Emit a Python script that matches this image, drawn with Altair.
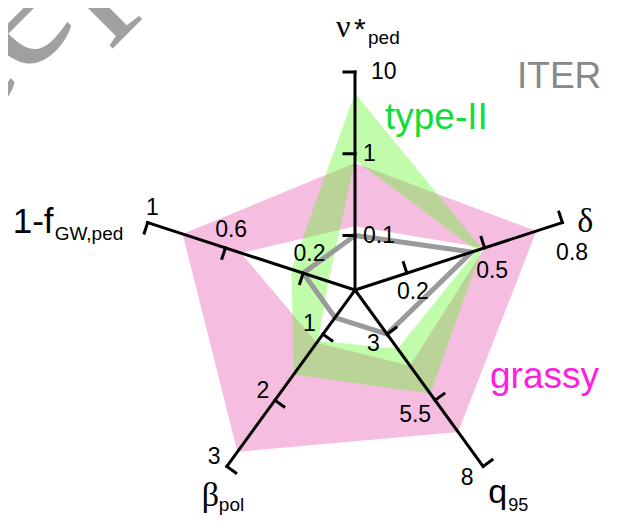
import math
import altair as alt
import pandas as pd

# ---------------- data ----------------
axis_keys = ["nu", "delta", "q95", "beta", "fgw"]
axis_angle = [90, 18, -54, -126, 162]  # degrees, counter-clockwise from +x
axis_ticks = [[0.1, 1, 10], [0.2, 0.5, 0.8], [3, 5.5, 8], [1, 2, 3], [0.2, 0.6, 1]]
axis_tick_text = [["0.1", "1", "10"], ["0.2", "0.5", "0.8"], ["3", "5.5", "8"],
                  ["1", "2", "3"], ["0.2", "0.6", "1"]]
axis_is_log = [True, False, False, False, False]

iter_values = [0.1, 0.45, 3.0, 0.75, 0.2]
grassy_low = [0.13, 0.50, 4.2, 1.13, 0.52]
grassy_high = [0.77, 0.70, 6.7, 2.78, 0.82]
type2_low = [0.84, 0.47, 3.55, 1.10, 0.07]
type2_high = [5.5, 0.49, 5.25, 1.61, 0.26]

# ---------------- layout ----------------
W, H = 604, 509
R_PX = 218.0            # axis length in pixels
CX, CY = 347.0, 282.0   # centre of the radar inside the plot area
X_DOM = [-CX / R_PX, (W - CX) / R_PX]
Y_DOM = [-(H - CY) / R_PX, CY / R_PX]
TICK_LEN = 11 / R_PX
LABEL_FS = 23
label_gap = [[8, 8, 16], [7, 12, 19], [7, 7, 10], [7, 5, 6], [8, 6, 6]]


def radius(k, v):
    t = axis_ticks[k]
    f = math.log10 if axis_is_log[k] else (lambda z: z)
    return 0.25 + 0.375 * (f(v) - f(t[0])) / (f(t[1]) - f(t[0]))


def point(k, v):
    r = radius(k, v)
    a = math.radians(axis_angle[k])
    return r * math.cos(a), r * math.sin(a)


def text_width(s, fs):
    return sum((0.278 if ch in ".,-" else 0.556) for ch in s) * fs


# bands (outer ring clockwise, inner ring counter-clockwise -> hole)
def ring(low, high, name):
    rows = []
    seq = [(high, k) for k in [0, 1, 2, 3, 4, 0]] + [(low, k) for k in [0, 4, 3, 2, 1, 0]]
    for i, (arr, k) in enumerate(seq):
        x, y = point(k, arr[k])
        rows.append(dict(band=name, i=i, x=x, y=y))
    return pd.DataFrame(rows)


grassy_df = ring(grassy_low, grassy_high, "grassy")
type2_df = ring(type2_low, type2_high, "type-II")

iter_rows = []
for k in range(5):
    x, y = point(k, iter_values[k])
    iter_rows.append(dict(i=k, x=x, y=y))
iter_df = pd.DataFrame(iter_rows)

# axis lines and ticks
seg_rows = []
lab_rows = []
for k in range(5):
    a = math.radians(axis_angle[k])
    ex, ey = point(k, axis_ticks[k][2])
    seg_rows.append(dict(x=0.0, y=0.0, x2=ex, y2=ey))
    for j, t in enumerate(axis_ticks[k]):
        px, py = point(k, t)
        seg_rows.append(dict(x=px, y=py, x2=px - TICK_LEN * math.sin(a), y2=py + TICK_LEN * math.cos(a)))
        s = axis_tick_text[k][j]
        ux, uy = math.sin(a), -math.cos(a)   # clockwise side
        d = label_gap[k][j] + abs(ux) * text_width(s, LABEL_FS) / 2 + abs(uy) * 8
        lab_rows.append(dict(x=px + ux * d / R_PX, y=py + uy * d / R_PX, t=s))
seg_df = pd.DataFrame(seg_rows)
lab_df = pd.DataFrame(lab_rows)

# axis titles: (axis, text, dx px, dy px from axis end (screen), size, serif?)
title_parts = [
    (0, "ν", -19, -35, 32, True),
    (0, "*", -1, -33, 30, False),
    (0, "ped", 13, -28, 19, False),
    (1, "δ", 15, 9, 34, True),
    (2, "q", 5, 37, 34, False),
    (2, "95", 25, 45, 18, False),
    (3, "β", -25, 40, 34, True),
    (3, "pol", -8, 45, 19, False),
    (4, "1-f", -135, 10, 35, False),
    (4, "GW,ped", -93, 17, 19, False),
]
tt_rows = []
for k, s, dx, dy, fs, serif in title_parts:
    ex, ey = point(k, axis_ticks[k][2])
    tt_rows.append(dict(x=ex + dx / R_PX, y=ey - dy / R_PX, t=s, fs=fs, serif=serif))
tt_df = pd.DataFrame(tt_rows)


def page_to_data(X, Y):
    return (X - 8 - CX) / R_PX, (CY - (Y - 8)) / R_PX


legend_text = ["ITER", "type-II", "grassy"]
legend_color = ["#888888", "#11dd3a", "#ff1ee0"]
legend_pos = [(517, 88), (385, 129), (490, 388)]
leg_rows = []
for s, c, (X, Y) in zip(legend_text, legend_color, legend_pos):
    x, y = page_to_data(X, Y)
    leg_rows.append(dict(x=x, y=y, t=s, col=c))
leg_df = pd.DataFrame(leg_rows)

wx, wy = page_to_data(-194, 298)
wm_df = pd.DataFrame([dict(x=wx, y=wy, t="Accepted Manuscript")])

# ---------------- chart ----------------
xs = alt.Scale(domain=X_DOM, nice=False, zero=False)
ys = alt.Scale(domain=Y_DOM, nice=False, zero=False)
X = alt.X("x:Q", scale=xs, axis=None)
Y = alt.Y("y:Q", scale=ys, axis=None)

watermark = alt.Chart(wm_df).mark_text(
    font="Liberation Serif", fontSize=190, angle=315, align="left",
    baseline="alphabetic", color="#a0a0a0"
).encode(x=X, y=Y, text="t:N")

pink = alt.Chart(grassy_df).mark_line(
    interpolate="linear-closed", fill="#f5bde0", fillOpacity=1, strokeOpacity=0
).encode(x=X, y=Y, order=alt.Order("i:Q"))

green = alt.Chart(type2_df).mark_line(
    interpolate="linear-closed", fill="#59f720", fillOpacity=0.38, strokeOpacity=0
).encode(x=X, y=Y, order=alt.Order("i:Q"))

iter_line = alt.Chart(iter_df).mark_line(
    interpolate="linear-closed", color="#9a9a9a", strokeWidth=5
).encode(x=X, y=Y, order=alt.Order("i:Q"))

segs = alt.Chart(seg_df).mark_rule(color="black", strokeWidth=3, strokeCap="square").encode(
    x=X, y=Y, x2="x2:Q", y2="y2:Q")

tick_labels = alt.Chart(lab_df).mark_text(
    font="Liberation Sans", fontSize=LABEL_FS, align="center", baseline="middle", color="black"
).encode(x=X, y=Y, text="t:N")

titles_sans = alt.Chart(tt_df).transform_filter("!datum.serif").mark_text(
    font="Liberation Sans", align="left", baseline="alphabetic", color="black"
).encode(x=X, y=Y, text="t:N", size=alt.Size("fs:Q", scale=None))

titles_serif = alt.Chart(tt_df).transform_filter("datum.serif").mark_text(
    font="Liberation Serif", align="left", baseline="alphabetic", color="black"
).encode(x=X, y=Y, text="t:N", size=alt.Size("fs:Q", scale=None))

legend_labels = alt.Chart(leg_df).mark_text(
    font="Liberation Sans", fontSize=37, align="left", baseline="alphabetic"
).encode(x=X, y=Y, text="t:N", color=alt.Color("col:N", scale=None))

chart = alt.layer(
    watermark, pink, green, iter_line, segs, tick_labels, titles_sans, titles_serif, legend_labels
).properties(
    width=W, height=H, padding=0, autosize=alt.AutoSizeParams(type="none")
).configure_view(strokeWidth=0)

chart.save("out.html", embed_options={"renderer": "svg", "actions": False})
